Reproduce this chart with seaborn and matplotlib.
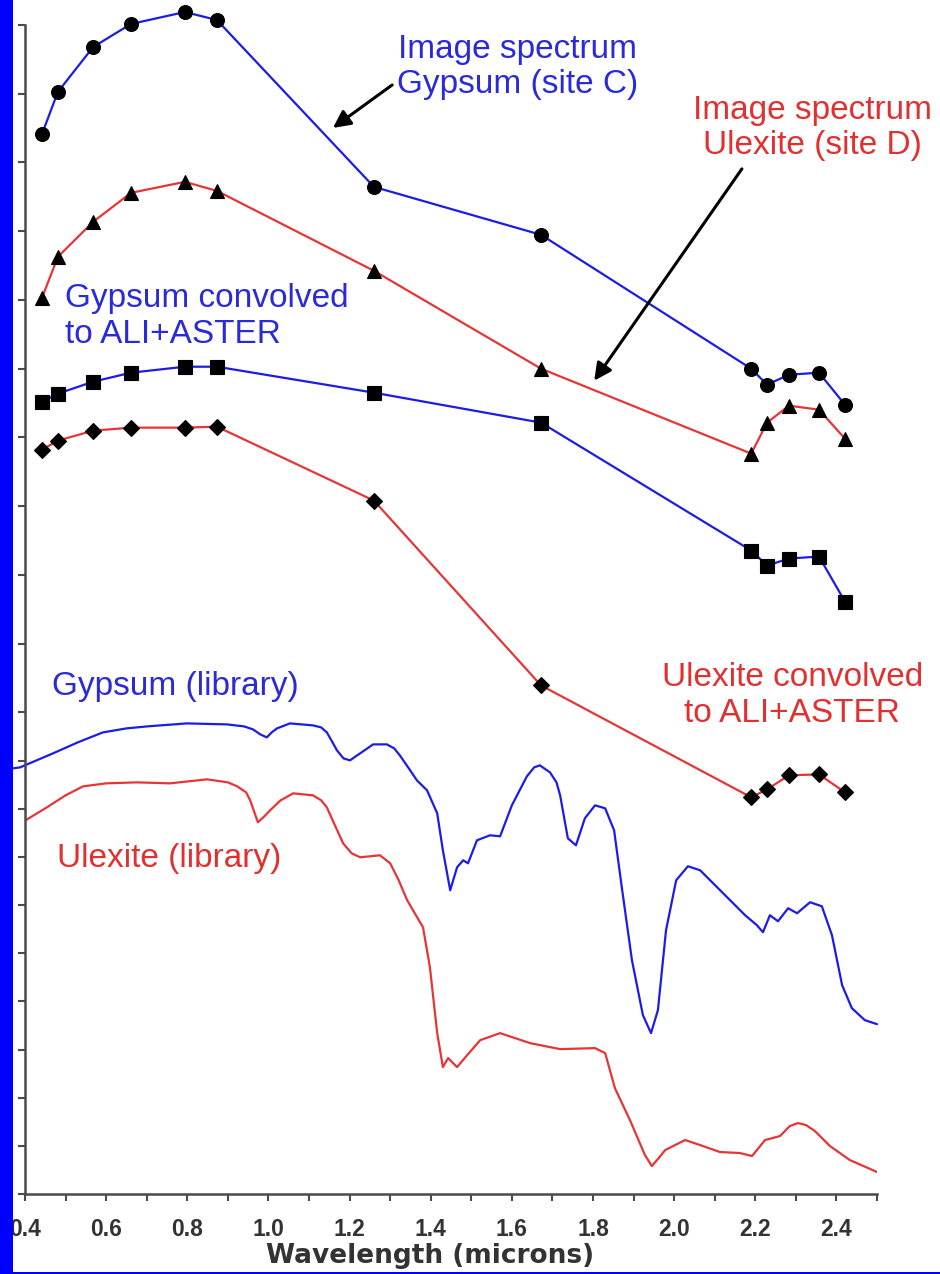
import numpy as np
import pandas as pd
import matplotlib
matplotlib.use("Agg")
import matplotlib.pyplot as plt
from matplotlib.patches import Rectangle
import seaborn as sns

# ---------------------------------------------------------------- data
# band centres (microns) of the ALI + ASTER multispectral samples
band_wl = [0.442, 0.481, 0.568, 0.661, 0.794, 0.873, 1.260, 1.672,
           2.190, 2.229, 2.283, 2.357, 2.421]

# offset reflectance of the multispectral spectra
gypsum_image = [106.1, 110.3, 114.8, 117.1, 118.3, 117.5, 100.8, 96.0,
                82.6, 81.0, 82.0, 82.2, 79.0]
ulexite_image = [89.7, 93.8, 97.3, 100.2, 101.3, 100.4, 92.4, 82.6,
                 74.1, 77.2, 78.9, 78.5, 75.6]
gypsum_conv = [79.3, 80.1, 81.3, 82.2, 82.8, 82.8, 80.2, 77.2,
               64.4, 62.9, 63.6, 63.8, 59.3]
ulexite_conv = [74.5, 75.4, 76.4, 76.7, 76.7, 76.8, 69.4, 50.9,
                39.7, 40.5, 41.9, 42.0, 40.2]

# library (laboratory) spectra
gypsum_lib_wl = [0.370, 0.388, 0.469, 0.530, 0.592, 0.650, 0.701, 0.799, 0.898,
                 0.940, 0.962, 0.980, 0.996, 1.008, 1.021, 1.053, 1.110, 1.130,
                 1.144, 1.158, 1.169, 1.185, 1.201, 1.215, 1.226, 1.258, 1.292,
                 1.310, 1.324, 1.346, 1.366, 1.391, 1.416, 1.430, 1.448, 1.465,
                 1.480, 1.492, 1.514, 1.546, 1.571, 1.600, 1.637, 1.655, 1.669,
                 1.694, 1.710, 1.719, 1.738, 1.758, 1.780, 1.805, 1.830, 1.852,
                 1.872, 1.896, 1.923, 1.943, 1.960, 1.980, 2.005, 2.034, 2.064,
                 2.101, 2.138, 2.175, 2.204, 2.219, 2.236, 2.256, 2.281, 2.303,
                 2.335, 2.364, 2.389, 2.414, 2.438, 2.470, 2.500]
gypsum_lib = [42.6, 42.7, 44.1, 45.2, 46.2, 46.6, 46.8, 47.1, 47.0,
              46.8, 46.5, 46.0, 45.7, 46.2, 46.6, 47.1, 46.9, 46.7,
              46.2, 45.2, 44.4, 43.6, 43.4, 43.8, 44.1, 45.0, 45.0,
              44.6, 43.9, 42.6, 41.4, 40.4, 38.1, 34.4, 30.4, 32.7,
              33.4, 33.1, 35.4, 35.9, 35.8, 38.9, 41.8, 42.7, 42.9,
              42.2, 41.2, 39.9, 35.6, 34.9, 37.6, 38.9, 38.6, 36.4,
              30.4, 23.4, 17.9, 16.1, 18.4, 26.4, 31.4, 32.8, 32.4,
              30.9, 29.4, 27.9, 26.9, 26.2, 27.9, 27.3, 28.6, 28.1,
              29.2, 28.8, 25.9, 20.9, 18.6, 17.4, 17.0]

ulexite_lib_wl = [0.393, 0.454, 0.500, 0.543, 0.600, 0.676, 0.757, 0.849, 0.900,
                  0.923, 0.945, 0.955, 0.974, 0.990, 1.004, 1.030, 1.061, 1.110,
                  1.130, 1.144, 1.165, 1.184, 1.205, 1.226, 1.275, 1.300, 1.320,
                  1.342, 1.365, 1.381, 1.398, 1.416, 1.430, 1.443, 1.465, 1.490,
                  1.522, 1.571, 1.645, 1.719, 1.805, 1.830, 1.854, 1.891, 1.928,
                  1.945, 1.960, 1.978, 2.027, 2.064, 2.113, 2.162, 2.192, 2.224,
                  2.261, 2.285, 2.305, 2.325, 2.347, 2.384, 2.433, 2.500]
ulexite_lib = [37.2, 38.7, 39.9, 40.8, 41.1, 41.2, 41.1, 41.5, 41.2,
               40.8, 40.2, 39.4, 37.2, 37.8, 38.4, 39.4, 40.1, 39.9,
               39.4, 38.7, 36.8, 35.1, 34.1, 33.7, 33.9, 33.1, 31.5,
               29.4, 27.8, 26.7, 22.7, 16.1, 12.7, 13.6, 12.7, 13.9,
               15.4, 16.1, 15.1, 14.5, 14.6, 14.1, 10.6, 7.4, 3.9,
               2.8, 3.5, 4.4, 5.4, 4.9, 4.2, 4.1, 3.8, 5.4,
               5.8, 6.8, 7.1, 6.9, 6.3, 4.8, 3.4, 2.2]

x_ticks = [0.4, 0.5, 0.6, 0.7, 0.8, 0.9, 1.0, 1.1, 1.2, 1.3, 1.4, 1.5,
           1.6, 1.7, 1.8, 1.9, 2.0, 2.1, 2.2, 2.3, 2.4, 2.5]
x_tick_labels = ["0.4", "", "0.6", "", "0.8", "", "1.0", "", "1.2", "", "1.4", "",
                 "1.6", "", "1.8", "", "2.0", "", "2.2", "", "2.4", ""]

# ---------------------------------------------------------------- style
sns.set_style("ticks")
plt.rcParams["font.family"] = ["Liberation Sans", "DejaVu Sans"]

BLUE = "#1c1ce6"
RED = "#e63535"
BLUE_TXT = "#2a2ad8"
RED_TXT = "#e03030"

fig = plt.figure(figsize=(9.4, 12.74), dpi=100)
fig.patch.set_facecolor("white")
ax = fig.add_axes([25 / 940, 80 / 1274, 852 / 940, 1169 / 1274])

# ---------------------------------------------------------------- spectra
def spectrum(wl, refl, color, marker=None, ms=9, clip=True):
    kw = dict(color=color, lw=1.6, sort=False, estimator=None, ax=ax)
    if marker:
        kw.update(marker=marker, markersize=ms, markerfacecolor="black",
                  markeredgecolor="black", markeredgewidth=0.8)
    line_ax = sns.lineplot(x=wl, y=refl, **kw)
    line = line_ax.lines[-1]
    line.set_clip_on(clip)
    line.set_solid_joinstyle("round")

spectrum(gypsum_lib_wl, gypsum_lib, BLUE, clip=False)
spectrum(ulexite_lib_wl, ulexite_lib, RED)
spectrum(band_wl, ulexite_conv, RED, marker="D", ms=8.5)
spectrum(band_wl, gypsum_conv, BLUE, marker="s", ms=9.5)
spectrum(band_wl, ulexite_image, RED, marker="^", ms=10)
spectrum(band_wl, gypsum_image, BLUE, marker="o", ms=10, clip=False)

# ---------------------------------------------------------------- axes
ax.set_xlim(0.4, 2.5)
ax.set_ylim(0, 117)
ax.set_xticks(x_ticks)
ax.set_xticklabels(x_tick_labels)
y_ticks = np.concatenate([np.linspace(0, 48.2, 11), np.linspace(48.2, 117, 11)[1:]])
ax.set_yticks(y_ticks)
ax.set_yticklabels([])

for side in ("top", "right"):
    ax.spines[side].set_visible(False)
for side in ("left", "bottom"):
    ax.spines[side].set_color("#4a4a4a")
    ax.spines[side].set_linewidth(1.8)

ax.tick_params(axis="both", direction="out", length=5, width=1.5, color="#4a4a4a")
ax.tick_params(axis="x", pad=12, labelsize=16.5, labelcolor="#333333")
for lab in ax.get_xticklabels():
    lab.set_fontweight("bold")

ax.set_xlabel("Wavelength (microns)", fontsize=19, fontweight="bold",
              color="#333333", family="DejaVu Sans")
ax.xaxis.set_label_coords(0.475, -0.042)
ax.set_ylabel("")

# ---------------------------------------------------------------- labels
TXT = dict(fontsize=24, linespacing=1.2)
ax.text(1.615, 112.8, "Image spectrum\nGypsum (site C)", color=BLUE_TXT,
        ha="center", va="center", multialignment="center", **TXT)
ax.text(2.342, 106.7, "Image spectrum\nUlexite (site D)", color=RED_TXT,
        ha="center", va="center", multialignment="center", **TXT)
ax.text(0.499, 87.8, "Gypsum convolved\nto ALI+ASTER", color=BLUE_TXT,
        ha="left", va="center", multialignment="left", **TXT)
ax.text(2.291, 49.9, "Ulexite convolved\nto ALI+ASTER", color=RED_TXT,
        ha="center", va="center", multialignment="center", **TXT)
ax.text(0.467, 50.8, "Gypsum (library)", color=BLUE_TXT,
        ha="left", va="center", **TXT)
ax.text(0.479, 33.6, "Ulexite (library)", color=RED_TXT,
        ha="left", va="center", **TXT)

ARROW = dict(arrowstyle="-|>", color="black", lw=2.2, mutation_scale=26,
             shrinkA=0, shrinkB=0)
ax.annotate("", xy=(1.159, 106.7), xytext=(1.305, 111.0), arrowprops=ARROW)
ax.annotate("", xy=(1.803, 81.4), xytext=(2.167, 102.6), arrowprops=ARROW)

# ---------------------------------------------------------------- frame
fig.add_artist(Rectangle((0, 0), 13 / 940, 1, transform=fig.transFigure,
                         facecolor="#0000ff", edgecolor="none", zorder=5))
fig.add_artist(Rectangle((0, 0), 1, 2.5 / 1274, transform=fig.transFigure,
                         facecolor="#0000ff", edgecolor="none", zorder=5))

fig.savefig("out.png", dpi=100)
